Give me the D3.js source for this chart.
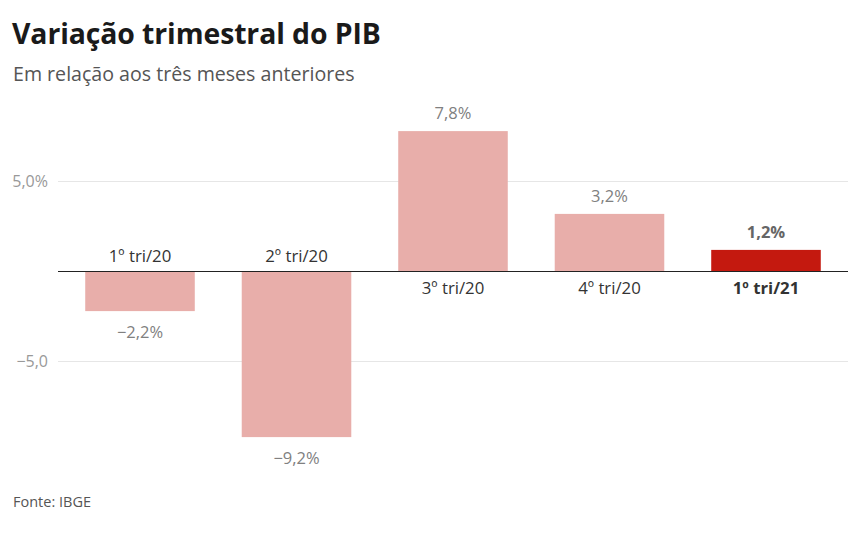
<!DOCTYPE html>
<html><head><meta charset="utf-8">
<script src="https://cdn.jsdelivr.net/npm/d3@7"></script>
<style>
body{margin:0;background:#fff;}
text{font-family:"Open Sans",sans-serif;}
</style></head>
<body><svg id="c" width="860" height="539"></svg>
<script>
const categories = ["1º tri/20","2º tri/20","3º tri/20","4º tri/20","1º tri/21"];
const values = [-2.2,-9.2,7.8,3.2,1.2];
const valueLabels = ["−2,2%","−9,2%","7,8%","3,2%","1,2%"];
const yTicks = [5,-5];
const yTickLabels = ["5,0%","−5,0"];
const highlight = "1º tri/21";

const svg = d3.select("#c");
svg.append("text").attr("x",12).attr("y",44).attr("font-size",28.4).attr("font-weight",700).attr("fill","#1a1a1a").attr("letter-spacing",-0.1).text("Variação trimestral do PIB");
svg.append("text").attr("x",13).attr("y",81).attr("font-size",19.6).attr("fill","#555").text("Em relação aos três meses anteriores");
svg.append("text").attr("x",13).attr("y",507).attr("font-size",14.5).attr("fill","#555").text("Fonte: IBGE");

const y = d3.scaleLinear().domain([-5,5]).range([361.5,181.5]);
const x = d3.scaleBand().domain(categories).range([58,848]).paddingInner(0.3).paddingOuter(0.174);

const yAxis = d3.axisLeft(y).tickValues(yTicks).tickFormat(d=>yTickLabels[yTicks.indexOf(d)]).tickSize(0);
const ga = svg.append("g").attr("transform","translate(51,0)").call(yAxis);
ga.select(".domain").remove();
ga.selectAll("text").attr("font-size",16).attr("fill","#999").attr("font-family","Open Sans").attr("dx",0);

svg.append("g").selectAll("line").data(yTicks).join("line")
  .attr("x1",58).attr("x2",848).attr("y1",d=>y(d)).attr("y2",d=>y(d))
  .attr("stroke","#e6e6e6").attr("stroke-width",1);

svg.append("g").selectAll("rect").data(categories).join("rect")
  .attr("x",d=>x(d)).attr("width",x.bandwidth())
  .attr("y",(d,i)=>y(Math.max(0,values[i])))
  .attr("height",(d,i)=>Math.abs(y(values[i])-y(0)))
  .attr("fill",d=>d===highlight?"#c4190f":"#e8aeaa");

svg.append("line").attr("x1",58).attr("x2",848).attr("y1",y(0)).attr("y2",y(0)).attr("stroke","#222").attr("stroke-width",1.2);

// value labels
svg.append("g").selectAll("text").data(categories).join("text")
  .attr("x",d=>x(d)+x.bandwidth()/2)
  .attr("y",(d,i)=>values[i]>=0? y(values[i])-12 : y(values[i])+27)
  .attr("text-anchor","middle").attr("font-size",16.5)
  .attr("font-weight",d=>d===highlight?700:400)
  .attr("fill",d=>d===highlight?"#666":"#808080")
  .text((d,i)=>valueLabels[i]);

// category labels
svg.append("g").selectAll("text").data(categories).join("text")
  .attr("x",d=>x(d)+x.bandwidth()/2)
  .attr("y",(d,i)=>values[i]>=0? y(0)+22 : y(0)-10)
  .attr("text-anchor","middle").attr("font-size",16.8)
  .attr("font-weight",d=>d===highlight?700:400)
  .attr("fill","#333")
  .text(d=>d);
</script></body></html>
